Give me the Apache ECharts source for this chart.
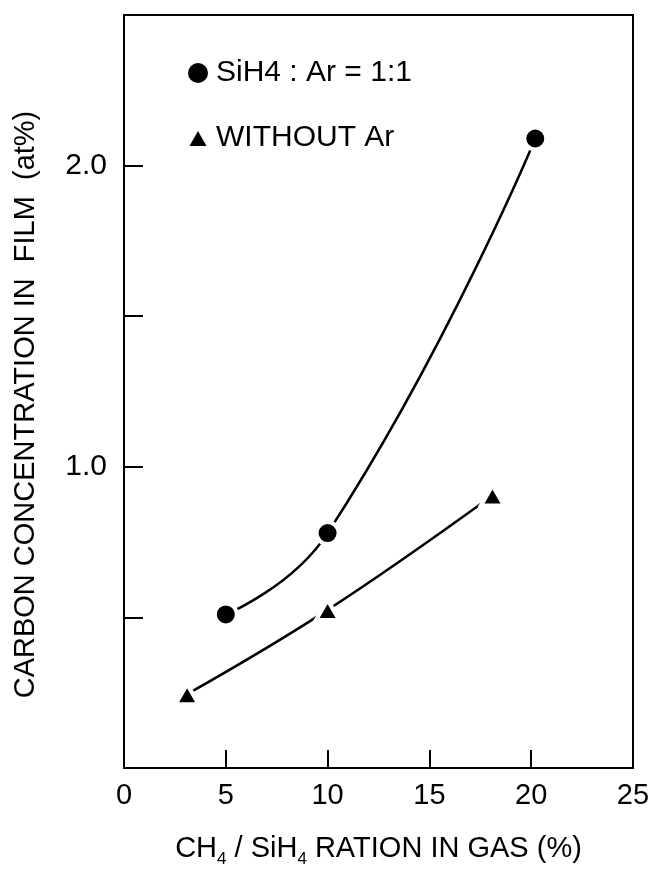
<!DOCTYPE html>
<html>
<head>
<meta charset="utf-8">
<script src="https://cdn.jsdelivr.net/npm/echarts@6/dist/echarts.min.js"></script>
<style>
html,body{margin:0;padding:0;background:#fff;}
#chart{width:662px;height:873px;}
</style>
</head>
<body>
<div id="chart"></div>
<script>
// ---- data ----
const seriesNames = ['SiH4 : Ar = 1:1', 'WITHOUT Ar'];
const arX = [5, 10, 20.2];
const arY = [0.51, 0.78, 2.09];
const noArX = [3.1, 10, 18.1];
const noArY = [0.245, 0.525, 0.905];
const xTickValues = [0, 5, 10, 15, 20, 25];
const yTickValues = [0, 0.5, 1.0, 1.5, 2.0, 2.5];
const yTickLabels = ['', '', '1.0', '', '2.0', ''];
const xTitle = ['CH', '4', ' / SiH', '4', ' RATION IN GAS (%)'];
const yTitle = 'CARBON CONCENTRATION IN  FILM  (at%)';

const FONT = 'Liberation Sans, Arial, Helvetica, sans-serif';
const chart = echarts.init(document.getElementById('chart'));

function pairs(xs, ys) { return xs.map((x, i) => [x, ys[i]]); }

const triIcon = 'path://M0,0L0,0M20,20L20,20M1.5,18L10,3L18.5,18Z';

const option = {
  backgroundColor: '#fff',
  animation: false,
  textStyle: { fontFamily: FONT, color: '#000' },
  grid: {
    left: 124, right: 29, top: 15, bottom: 102,
    show: true, borderColor: '#000', borderWidth: 2, backgroundColor: 'transparent'
  },
  legend: {
    orient: 'vertical',
    left: 183, top: 53,
    itemGap: 35,
    itemWidth: 20, itemHeight: 20,
    textStyle: { fontFamily: FONT, fontSize: 30, color: '#000', padding: [0, 0, 0, 3] },
    itemStyle: { borderWidth: 0 },
    data: [
      { name: seriesNames[0], icon: 'circle' },
      { name: seriesNames[1], icon: triIcon }
    ]
  },
  xAxis: {
    type: 'value',
    min: xTickValues[0], max: xTickValues[xTickValues.length - 1], interval: 5,
    axisLine: { show: true, lineStyle: { color: '#000', width: 2 } },
    axisTick: { show: true, inside: true, length: 18, lineStyle: { color: '#000', width: 2 } },
    splitLine: { show: false },
    axisLabel: { color: '#000', fontSize: 29, fontFamily: FONT, margin: 13 },
    name: '{a|' + xTitle[0] + '}{s|' + xTitle[1] + '}{a|' + xTitle[2] + '}{s|' + xTitle[3] + '}{a|' + xTitle[4] + '}',
    nameLocation: 'middle',
    nameGap: 62,
    nameTextStyle: {
      rich: {
        a: { fontSize: 29, fontFamily: FONT, color: '#000', lineHeight: 38, verticalAlign: 'middle' },
        s: { fontSize: 17, fontFamily: FONT, color: '#000', lineHeight: 38, verticalAlign: 'bottom' }
      }
    }
  },
  yAxis: {
    type: 'value',
    min: yTickValues[0], max: yTickValues[yTickValues.length - 1], interval: 0.5,
    axisLine: { show: true, lineStyle: { color: '#000', width: 2 } },
    axisTick: { show: true, inside: true, length: 19, lineStyle: { color: '#000', width: 2 } },
    splitLine: { show: false },
    axisLabel: {
      color: '#000', fontSize: 30, fontFamily: FONT, margin: 17,
      formatter: function (v) {
        const i = yTickValues.findIndex(t => Math.abs(t - v) < 1e-9);
        return i >= 0 ? yTickLabels[i] : '';
      }
    },
    name: yTitle,
    nameLocation: 'middle',
    nameGap: 84,
    nameTextStyle: { fontSize: 29, fontFamily: FONT, color: '#000', padding: [0, 26, 0, 0] }
  },
  series: [
    {
      name: seriesNames[0],
      type: 'line',
      data: pairs(arX, arY),
      smooth: 0.5,
      symbol: 'circle',
      symbolSize: 22,
      lineStyle: { color: '#000', width: 2.5 },
      itemStyle: { color: '#000', borderColor: '#fff', borderWidth: 4 },
      z: 3
    },
    {
      name: seriesNames[1],
      type: 'line',
      data: pairs(noArX, noArY),
      smooth: 0.4,
      symbol: 'triangle',
      symbolSize: [23, 20],
      lineStyle: { color: '#000', width: 2.5 },
      itemStyle: { color: '#000', borderColor: '#fff', borderWidth: 4 },
      z: 3
    }
  ]
};
chart.setOption(option);
</script>
</body>
</html>
